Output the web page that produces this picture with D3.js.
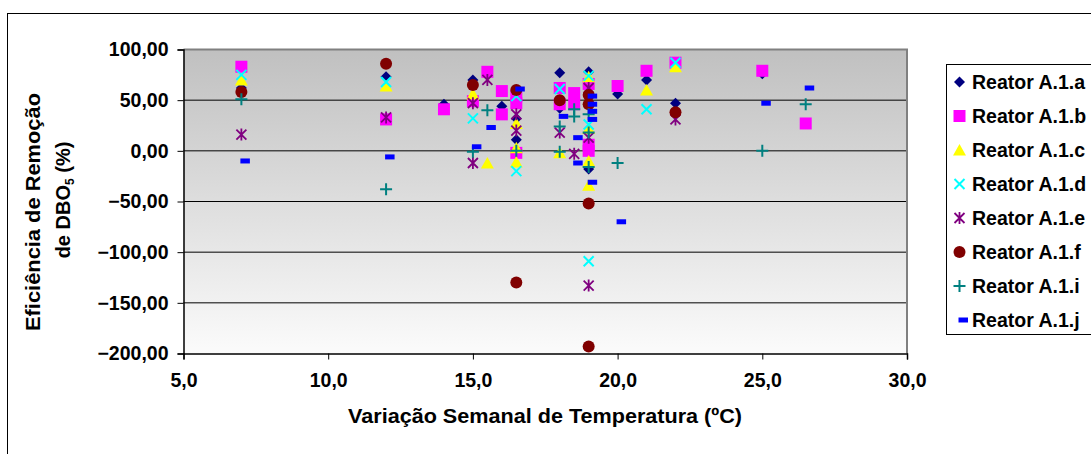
<!DOCTYPE html>
<html><head><meta charset="utf-8">
<script src="https://cdn.jsdelivr.net/npm/d3@7"></script>
<style>body{margin:0;background:#fff}svg{display:block;font-family:"Liberation Sans",Arial,sans-serif}</style>
</head><body><svg id="c" width="1091" height="454"></svg>
<script>
const xTicks = [5, 10, 15, 20, 25, 30];
const yTicks = [100, 50, 0, -50, -100, -150, -200];
const seriesNames = ["Reator A.1.a","Reator A.1.b","Reator A.1.c","Reator A.1.d","Reator A.1.e","Reator A.1.f","Reator A.1.i","Reator A.1.j"];
// [temperature variation (ºC), removal efficiency (%)]
const serA = [[7,62],[12,73],[14,46],[15,70],[16,44],[16.5,32],[16.5,11],[18,77],[18,42],[19,78],[19,-18],[20,56],[21,70],[22,47],[25,76]];
const serB = [[7,83],[12,31],[14,41],[15,49],[15.5,78],[16,59],[16,36],[16.5,54],[16.5,47],[16.5,-2],[18,62],[18,46],[18.5,57],[18.5,46],[19,66],[19,6],[19,0],[20,64],[21,79],[22,87],[25,79],[26.5,27]];
const serC = [[7,70],[12,64],[15,56],[15.5,-12],[16.5,27],[16.5,3],[16.5,-11],[18,-2],[19,73],[19,22],[19,-10],[19,-34],[21,60],[22,83]];
const serD = [[7,75],[12,68],[15,32],[16.5,54],[16.5,-20],[18,61],[19,74],[19,26],[19,-109],[21,41],[22,87]];
const serE = [[7,16],[12,33],[15,47],[15,-12],[15.5,70],[16.5,36],[16.5,20],[18,18],[18.5,-3],[19,62],[19,13],[19,-133],[22,31]];
const serF = [[7,58],[12,86],[15,65],[16.5,60],[16.5,-130],[18,50],[19,55],[19,46],[19,-52],[19,-193],[22,38]];
const serI = [[7,51],[12,-38],[15,-1],[15.5,40],[16.5,0],[18,24],[18,-1],[18.5,41],[18.5,34],[19,36],[19,18],[19,-16],[20,-12],[25,0],[26.5,46]];
const serJ = [[7,-10],[12,-6],[15,4],[15.5,23],[16.5,61],[18,34],[18.5,13],[18.5,-12],[19,54],[19,46],[19,39],[19,31],[19,-31],[20,-70],[25,47],[26.5,62]];

const allSeries = [serA, serB, serC, serD, serE, serF, serI, serJ];
const styles = [
  {d:"M0,-5.5L5.5,0L0,5.5L-5.5,0Z", fill:"#000080", stroke:"none"},
  {d:"M-6,-6h12v12h-12Z", fill:"#FF00FF", stroke:"none"},
  {d:"M0,-6L6.5,5.5L-6.5,5.5Z", fill:"#FFFF00", stroke:"none"},
  {d:"M-5,-5L5,5M-5,5L5,-5", fill:"none", stroke:"#00FFFF", sw:2},
  {d:"M-5,-5L5,5M-5,5L5,-5M0,-6V6", fill:"none", stroke:"#800080", sw:1.8},
  {d:"M0,0m-6,0a6,6 0 1,0 12,0a6,6 0 1,0 -12,0", fill:"#800000", stroke:"none"},
  {d:"M-6,0H6M0,-6V6", fill:"none", stroke:"#008080", sw:2},
  {d:"M-1,-2.5h9.5v5h-9.5Z", fill:"#0000FF", stroke:"none"}
];

const svg = d3.select("#c");
const L = 183.5, R = 907, T = 49.5, B = 353.5;
const x = d3.scaleLinear().domain([5, 30]).range([L, R]);
const y = d3.scaleLinear().domain([-200, 100]).range([B, T]);

// outer frame
svg.append("rect").attr("x", 7.5).attr("y", 13.5).attr("width", 1100).attr("height", 500)
  .attr("fill", "#fff").attr("stroke", "#000").attr("stroke-width", 1);

const defs = svg.append("defs");
const g = defs.append("linearGradient").attr("id", "bg").attr("x1", 0).attr("y1", 0).attr("x2", 0).attr("y2", 1);
g.append("stop").attr("offset", "0%").attr("stop-color", "#c0c0c0");
g.append("stop").attr("offset", "100%").attr("stop-color", "#fbfbfb");

svg.append("rect").attr("x", L).attr("y", T).attr("width", R - L).attr("height", B - T).attr("fill", "url(#bg)");

// gridlines
svg.append("g").selectAll("line").data(yTicks.filter(v => v > -200 && v < 100)).join("line")
  .attr("x1", L).attr("x2", R).attr("y1", d => y(d)).attr("y2", d => y(d))
  .attr("stroke", "#000").attr("stroke-width", 1);

// plot border top/right
svg.append("path").attr("d", `M${L},${T}H${R}V${B}`).attr("fill", "none").attr("stroke", "#808080").attr("stroke-width", 2);

// axes
const yAxis = d3.axisLeft(y).tickValues(yTicks).tickSize(6).tickPadding(9)
  .tickFormat(d => d3.format(".2f")(d).replace(".", ","));
const gy = svg.append("g").attr("transform", `translate(${L},0)`).call(yAxis);
const xAxis = d3.axisBottom(x).tickValues(xTicks).tickSize(6).tickPadding(14)
  .tickFormat(d => d3.format(".1f")(d).replace(".", ","));
const gx = svg.append("g").attr("transform", `translate(0,${B})`).call(xAxis);
[gy, gx].forEach(a => {
  a.select(".domain").attr("stroke", "#000").attr("stroke-width", 1.5);
  a.selectAll(".tick line").attr("stroke", "#000");
  a.selectAll("text").attr("font-size", 19.5).attr("font-weight", "bold").attr("fill", "#000")
    .attr("font-family", '"Liberation Sans",Arial,sans-serif');
});

// markers
allSeries.forEach((s, i) => {
  const st = styles[i];
  svg.append("g").selectAll("path").data(s).join("path")
    .attr("transform", d => `translate(${x(d[0])},${y(d[1])})`)
    .attr("d", st.d).attr("fill", st.fill).attr("stroke", st.stroke).attr("stroke-width", st.sw || 0);
});

// axis titles
svg.append("text").attr("x", 545).attr("y", 423).attr("text-anchor", "middle")
  .attr("font-size", 20).attr("font-weight", "bold")
  .attr("textLength", 394).attr("lengthAdjust", "spacingAndGlyphs")
  .text("Variação Semanal de Temperatura (ºC)");
svg.append("text").attr("transform", "translate(40,212) rotate(-90)").attr("text-anchor", "middle")
  .attr("font-size", 20).attr("font-weight", "bold")
  .attr("textLength", 238).attr("lengthAdjust", "spacingAndGlyphs")
  .text("Eficiência de Remoção");
const t2 = svg.append("text").attr("transform", "translate(70,200) rotate(-90)").attr("text-anchor", "middle")
  .attr("font-size", 20).attr("font-weight", "bold");
t2.append("tspan").text("de DBO");
t2.append("tspan").attr("font-size", 12).attr("dy", 4).text("5");
t2.append("tspan").attr("dy", -4).text(" (%)");

// legend
const lg = svg.append("g");
lg.append("rect").attr("x", 946.5).attr("y", 64.5).attr("width", 160).attr("height", 270)
  .attr("fill", "#fff").attr("stroke", "#000").attr("stroke-width", 1);
seriesNames.forEach((n, i) => {
  const yy = 82 + i * 34;
  const st = styles[i];
  lg.append("path").attr("transform", `translate(959.5,${yy})`).attr("d", st.d)
    .attr("fill", st.fill).attr("stroke", st.stroke).attr("stroke-width", st.sw || 0);
  lg.append("text").attr("x", 972).attr("y", yy + 7).attr("font-size", 19.5).attr("font-weight", "bold").text(n);
});
</script></body></html>
